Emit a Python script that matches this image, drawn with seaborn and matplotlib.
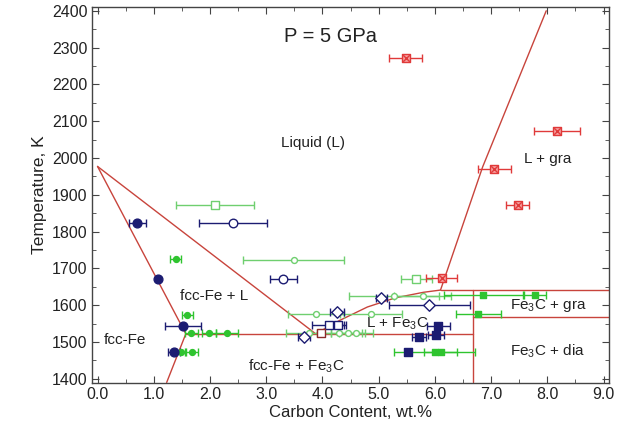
import matplotlib
matplotlib.use("Agg")
import matplotlib.pyplot as plt
import seaborn as sns
import numpy as np
from matplotlib.ticker import MultipleLocator, FormatStrFormatter

sns.set_style("ticks")
plt.rcParams['font.family'] = ['Liberation Sans', 'DejaVu Sans']
plt.rcParams['mathtext.fontset'] = 'custom'
plt.rcParams['mathtext.rm'] = 'Liberation Sans'

# ---- phase boundary lines (wt.% C, K)
liq_fcc_x = [0.0, 3.88]
liq_fcc_T = [1977, 1522]
sol_fcc_x = [0.0, 1.57, 1.23]
sol_fcc_T = [1977, 1522, 1390]
eut_x = [1.57, 6.67]
eut_T = [1522, 1522]
liq_fe3c_x = [3.88, 4.3, 4.8, 5.3, 5.8, 6.1]
liq_fe3c_T = [1522, 1558, 1595, 1620, 1635, 1641]
liq_gra_x = [6.1, 6.85, 7.98]
liq_gra_T = [1641, 1976, 2400]
upper_h_x = [6.1, 9.1]
upper_h_T = [1641, 1641]
lower_h_x = [6.67, 9.1]
lower_h_T = [1568, 1568]
fe3c_v_x = [6.67, 6.67]
fe3c_v_T = [1390, 1641]

# ---- experimental points
red_x = [5.48, 8.17, 7.06, 7.47, 6.12]
red_T = [2271, 2072, 1971, 1873, 1673]
red_err = [0.29, 0.41, 0.30, 0.20, 0.27]

navy_fc_x = [0.71, 1.08, 1.52, 1.36]
navy_fc_T = [1823, 1672, 1543, 1474]
navy_fc_err = [0.15, 0.0, 0.32, 0.10]

navy_oc_x = [2.41, 3.30]
navy_oc_T = [1823, 1672]
navy_oc_err = [0.60, 0.24]

green_os_x = [2.09, 5.67]
green_os_T = [1873, 1672]
green_os_err = [0.70, 0.27]

green_oc_x = [3.49, 3.88, 4.86, 5.27, 5.78, 3.76, 4.30, 4.45, 4.60]
green_oc_T = [1724, 1577, 1577, 1626, 1626, 1523, 1523, 1523, 1523]
green_oc_err = [0.90, 0.50, 0.55, 0.80, 0.50, 0.40, 0.40, 0.30, 0.30]

green_fc_x = [1.39, 1.60, 1.67, 1.98, 2.30, 1.48, 1.68]
green_fc_T = [1725, 1574, 1523, 1523, 1523, 1474, 1474]
green_fc_err = [0.10, 0.10, 0.12, 0.12, 0.20, 0.08, 0.10]

green_fs_x = [6.86, 7.78, 6.77, 6.00, 6.10]
green_fs_T = [1627, 1627, 1575, 1472, 1472]
green_fs_err = [0.70, 0.20, 0.40, 0.72, 0.30]

navy_fs_x = [5.53, 5.72, 6.02, 6.06]
navy_fs_T = [1472, 1513, 1520, 1543]
navy_fs_err = [0.05, 0.12, 0.15, 0.20]

navy_od_x = [5.05, 5.90, 4.26, 3.67]
navy_od_T = [1619, 1601, 1581, 1513]
navy_od_err = [0.10, 0.72, 0.12, 0.10]

navy_os_x = [4.12, 4.28]
navy_os_T = [1545, 1545]
navy_os_err = [0.30, 0.10]

brown_os_x = [3.97]
brown_os_T = [1525]

xticks = [0, 1, 2, 3, 4, 5, 6, 7, 8, 9]
yticks = [1400, 1500, 1600, 1700, 1800, 1900, 2000, 2100, 2200, 2300, 2400]

LINE = '#c8443c'
NAVY = '#1c1c72'
GREEN = '#2fc42f'
LGREEN = '#6fcf6f'
RED = '#e03a3a'

fig = plt.figure(figsize=(6.21, 4.45), dpi=100)
ax = fig.add_axes([0.148, 0.139, 0.833, 0.845])

for xs, ts in [(liq_fcc_x, liq_fcc_T), (sol_fcc_x, sol_fcc_T), (eut_x, eut_T),
               (liq_fe3c_x, liq_fe3c_T), (liq_gra_x, liq_gra_T),
               (upper_h_x, upper_h_T), (lower_h_x, lower_h_T), (fe3c_v_x, fe3c_v_T)]:
    sns.lineplot(x=xs, y=ts, sort=False, estimator=None, color=LINE, lw=1.0, ax=ax, zorder=2)

def series(xs, ts, errs, ecol, marker, s, face, edge, lw=1.0, z=4):
    if errs is not None:
        ax.errorbar(xs, ts, xerr=errs, fmt='none', ecolor=ecol, elinewidth=1.0,
                    capsize=3, capthick=1.0, zorder=3)
    sns.scatterplot(x=xs, y=ts, marker=marker, s=s, color=face, edgecolor=edge,
                    linewidth=lw, ax=ax, zorder=z, legend=False)

series(green_oc_x, green_oc_T, green_oc_err, LGREEN, 'o', 18, 'white', LGREEN)
series(green_os_x, green_os_T, green_os_err, LGREEN, 's', 40, 'white', LGREEN)
series(green_fc_x, green_fc_T, green_fc_err, GREEN, 'o', 18, GREEN, GREEN)
series(green_fs_x, green_fs_T, green_fs_err, GREEN, 's', 22, GREEN, GREEN)
series(navy_oc_x, navy_oc_T, navy_oc_err, NAVY, 'o', 38, 'white', NAVY)
series(navy_fc_x, navy_fc_T, navy_fc_err, NAVY, 'o', 40, NAVY, NAVY)
series(navy_fs_x, navy_fs_T, navy_fs_err, NAVY, 's', 36, NAVY, NAVY)
series(navy_od_x, navy_od_T, navy_od_err, NAVY, 'D', 34, 'white', NAVY)
series(navy_os_x, navy_os_T, navy_os_err, NAVY, 's', 40, 'white', NAVY)
series(brown_os_x, brown_os_T, None, NAVY, 's', 36, 'white', '#8b2a2a')
series(red_x, red_T, red_err, RED, 's', 40, '#f7a0a0', RED)
sns.scatterplot(x=red_x, y=red_T, marker='x', s=22, color=RED, linewidth=1.0,
                ax=ax, zorder=5, legend=False)

txt = dict(color='#222222', ha='center', va='center')
ax.text(4.15, 2330, 'P = 5 GPa', fontsize=14.5, **txt)
ax.text(3.84, 2042, 'Liquid (L)', fontsize=11, **txt)
ax.text(8.01, 1996, 'L + gra', fontsize=11, **txt)
ax.text(2.07, 1624, 'fcc-Fe + L', fontsize=11, **txt)
ax.text(0.48, 1504, 'fcc-Fe', fontsize=11, **txt)
ax.text(5.34, 1550, 'L + Fe$_3$C', fontsize=11, **txt)
ax.text(8.01, 1599, 'Fe$_3$C + gra', fontsize=11, **txt)
ax.text(3.54, 1433, 'fcc-Fe + Fe$_3$C', fontsize=11, **txt)
ax.text(8.01, 1476, 'Fe$_3$C + dia', fontsize=11, **txt)

ax.set_xlim(-0.1, 9.1)
ax.set_ylim(1388, 2410)
ax.set_xticks(xticks)
ax.set_yticks(yticks)
ax.xaxis.set_major_formatter(FormatStrFormatter('%.1f'))
ax.xaxis.set_minor_locator(MultipleLocator(0.5))
ax.yaxis.set_minor_locator(MultipleLocator(50))
ax.tick_params(which='both', direction='in', top=True, right=True, color='#444444')
ax.tick_params(which='major', length=5, labelsize=11.5, pad=3, labelcolor='#222222')
ax.tick_params(which='minor', length=3)
for sp in ax.spines.values():
    sp.set_visible(True)
    sp.set_color('#444444')
    sp.set_linewidth(1.0)
ax.set_xlabel('Carbon Content, wt.%', fontsize=12, color='#222222', labelpad=2)
ax.set_ylabel('Temperature, K', fontsize=12.5, color='#222222', labelpad=4)

fig.savefig('out.png', dpi=100)
